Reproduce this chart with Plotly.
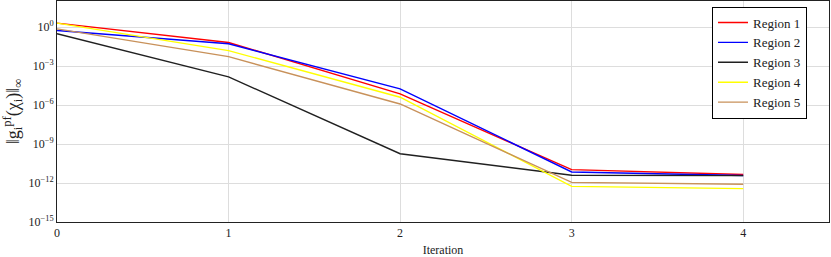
import plotly.graph_objects as go

iterations = [0, 1, 2, 3, 4]
region_names = ["Region 1", "Region 2", "Region 3", "Region 4", "Region 5"]
# log10 of the residual norm per iteration
log_r1 = [0.30, -1.19, -5.15, -10.97, -11.35]
log_r2 = [-0.27, -1.29, -4.76, -11.15, -11.42]
log_r3 = [-0.52, -3.84, -9.75, -11.40, -11.43]
log_r4 = [0.30, -1.82, -5.40, -12.26, -12.43]
log_r5 = [-0.14, -2.28, -5.92, -11.95, -12.10]
colors = ["#ff0000", "#0000ff", "#202020", "#ffff00", "#c8915a"]

ytick_vals = [0, -3, -6, -9, -12, -15]
ytick_text = ["10<sup>0</sup>", "10<sup>−3</sup>", "10<sup>−6</sup>", "10<sup>−9</sup>",
              "10<sup>−12</sup>", "10<sup>−15</sup>"]

font = "Liberation Serif, DejaVu Serif, serif"
fig = go.Figure()
for name, vals, c in zip(region_names, [log_r1, log_r2, log_r3, log_r4, log_r5], colors):
    fig.add_trace(go.Scatter(x=iterations, y=[10 ** v for v in vals], mode="lines",
                             name=name, line=dict(color=c, width=1.4)))

fig.update_layout(
    width=831, height=257,
    margin=dict(l=57, r=2, t=1, b=35, autoexpand=False),
    paper_bgcolor="white", plot_bgcolor="white",
    font=dict(family=font, size=12, color="#222"),
    legend=dict(x=0.9715, y=0.975, xanchor="right", yanchor="top",
                bordercolor="black", borderwidth=1, bgcolor="white",
                font=dict(family="Liberation Serif", size=13, color="#222"),
                tracegroupgap=0, itemwidth=30),
    showlegend=True,
)
fig.update_xaxes(range=[0, 4.5], tickvals=iterations, ticktext=[str(i) for i in iterations],
                 showgrid=True, gridcolor="#dddddd", gridwidth=1, zeroline=False,
                 showline=True, linecolor="#222", linewidth=1, mirror=True,
                 ticks="", automargin=False,
                 title=dict(text="Iteration", font=dict(size=12)),
                 tickfont=dict(size=12))
fig.update_yaxes(type="log", range=[-15, 2], tickvals=[10 ** v for v in ytick_vals],
                 ticktext=ytick_text,
                 showgrid=True, gridcolor="#dddddd", gridwidth=1, zeroline=False,
                 showline=True, linecolor="#222", linewidth=1, mirror=True,
                 ticks="", tickfont=dict(size=12), automargin=False,
                 title=dict(text="‖g<sub>i</sub><sup>pf</sup>(χ<sub>i</sub>)‖<sub>∞</sub>",
                            font=dict(size=18)))

fig.write_html("out.html", config={"displayModeBar": False},
               post_script="document.body.style.margin='0';")
